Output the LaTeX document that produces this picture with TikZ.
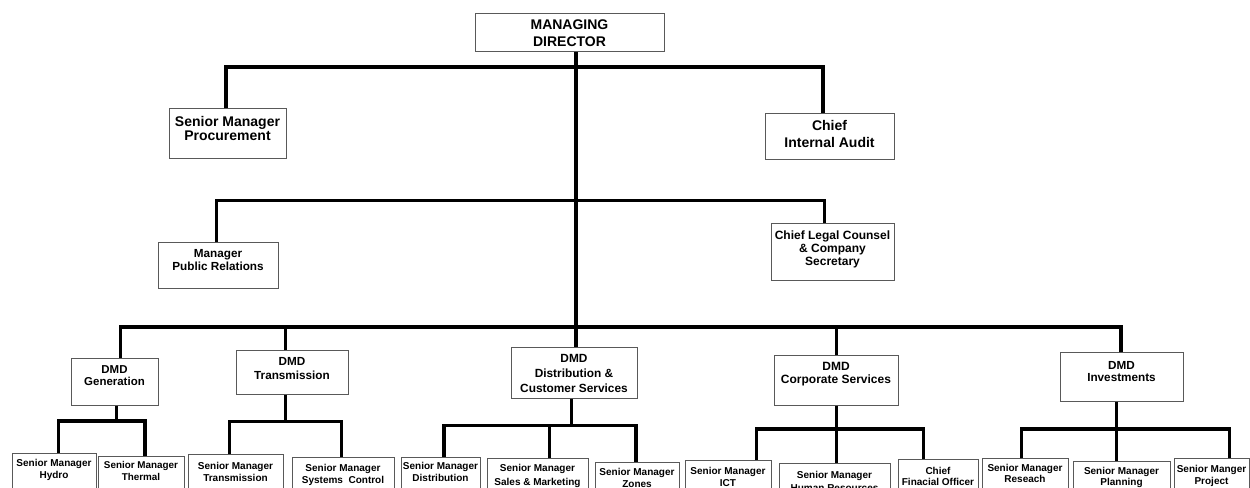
\documentclass[tikz,border=0pt]{standalone}
\usepackage{fontspec}
\setmainfont{Liberation Sans}
\usetikzlibrary{calc}

\tikzset{
  box/.style={draw=black!65, line width=0.75pt, fill=white, align=center,
              inner xsep=0pt, inner ysep=0pt},
  fnt/.style 2 args={font=\bfseries\fontsize{#1}{#2}\selectfont},
  bw/.style={minimum width=#1*0.75pt},
  bh/.style={minimum height=#1*0.75pt},
  % extra depth under the last line pushes the text upwards in its box
  lift/.style={execute at end node={\rule[-#1]{0pt}{#1}}},
  leaf/.style={box, anchor=north, fnt={7.5}{9}, lift=30pt},
  link/.style={line width=2.4pt, line join=miter},
}

\begin{document}
\begin{tikzpicture}[x=0.75pt, y=-0.75pt]
\useasboundingbox (0,0) rectangle (1250,488);
\fill[white] (0,0) rectangle (1250,488);
\clip (0,0) rectangle (1250,488);

% ---- top management ----
\node[box, fnt={10.5}{12.75}, bw=189, bh=38] (md) at (569.5,33) {MANAGING\\DIRECTOR};
\node[box, fnt={10.5}{10.5}, bw=117, bh=50, lift=9pt] (proc) at (227.5,134) {Senior Manager\\Procurement};
\node[box, fnt={10.5}{12.75}, bw=129, bh=46, lift=4.2pt] (audit) at (829.5,137) {Chief\\Internal Audit};
\node[box, fnt={8.8}{10}, bw=120, bh=46, lift=9pt] (pr) at (218,266) {Manager\\Public Relations};
\node[box, fnt={9}{9.75}, bw=123, bh=57, lift=7.2pt] (legal) at (832.5,252.5) {Chief Legal Counsel\\\& Company\\Secretary};

% ---- deputy managing directors ----
\node[box, fnt={8.6}{9}, bw=87, bh=46, lift=9.75pt] (gen) at (114.5,382) {DMD\\Generation};
\node[box, fnt={8.8}{10.5}, bw=112, bh=43, lift=5.5pt] (trans) at (292,372.5) {DMD\\Transmission};
\node[box, fnt={8.9}{11.25}, bw=126, bh=50] (dist) at (574,373) {DMD\\Distribution \&\\Customer Services};
\node[box, fnt={9}{10}, bw=124, bh=49, lift=11.25pt] (corp) at (836,380.5) {DMD\\Corporate Services};
\node[box, fnt={8.8}{9}, bw=123, bh=48, lift=8pt] (inv) at (1121.5,377) {DMD\\Investments};

% ---- senior managers ----
\node[leaf, fnt={7.5}{8.8}, bw=84, inner ysep=4.5pt] (hydro) at (54,453) {Senior Manager\\Hydro};
\node[leaf, fnt={7.4}{9.2}, bw=86, inner ysep=3.8pt] (thermal) at (141,456) {Senior Manager\\Thermal};
\node[leaf, bw=95, inner ysep=5.6pt] (smtrans) at (235.5,454) {Senior Manager\\Transmission};
\node[leaf, bw=102, inner ysep=4.9pt] (sysctl) at (343,457) {Senior Manager\\Systems\ \ Control};
\node[leaf, bw=79, inner ysep=4.1pt] (distrib) at (440.5,456.5) {Senior Manager\\Distribution};
\node[leaf, fnt={7.5}{11}, bw=101, inner ysep=3.8pt] (sales) at (537.5,458.3) {Senior Manager\\Sales \& Marketing};
\node[leaf, bw=84, inner ysep=4.2pt] (zones) at (637,462) {Senior Manager\\Zones};
\node[leaf, fnt={7.5}{8.8}, bw=86, inner ysep=4.9pt] (ict) at (728,460) {Senior Manager\\ICT};
\node[leaf, fnt={7.5}{10}, bw=111, inner ysep=5.5pt] (hr) at (834.5,463) {Senior Manager\\Human Resources};
\node[leaf, fnt={7.5}{8.25}, bw=80, inner ysep=5.5pt] (cfo) at (938,459.3) {Chief\\Finacial Officer};
\node[leaf, fnt={7.5}{8.25}, bw=86, inner ysep=4.3pt] (research) at (1025,458.3) {Senior Manager\\Reseach};
\node[leaf, fnt={7.5}{8}, bw=97, inner ysep=4.5pt] (planning) at (1121.5,460.7) {Senior Manager\\Planning};
\node[leaf, bw=75, inner ysep=4.5pt] (project) at (1211.5,458.3) {Senior Manger\\Project};

% ---- junction points of the connector bars ----
\coordinate (j1) at (576,67);
\coordinate (j2) at (576,200.5);
\coordinate (jm) at (576,327);
\coordinate (jg) at (116.7,421);
\coordinate (jt) at (285.7,421.7);
\coordinate (jd) at (571.7,425.7);
\coordinate (jc) at (836.7,429);
\coordinate (ji) at (1116.7,429);

% ---- main trunk ----
\draw[link] (md.south -| jm) -- (jm |- dist.north);

% ---- staff positions ----
\draw[link] ($(proc.north)+(-1.5,0)$) |- (j1);
\draw[link] ($(audit.north)+(-6.5,0)$) |- (j1);
\draw[link] ($(pr.north)+(-1.3,0)$) |- (j2);
\draw[link] ($(legal.north)+(-8.2,0)$) |- (j2);

% ---- DMD bar ----
\draw[link] ($(gen.north)+(6.2,0)$) |- (jm);
\draw[link] ($(trans.north)+(-6.3,0)$) |- (jm);
\draw[link] ($(corp.north)+(0.7,0)$) |- (jm);
\draw[link] ($(inv.north)+(-0.5,0)$) |- (jm);

% ---- Generation ----
\draw[link] (gen.south -| jg) -- (jg);
\draw[link] ($(hydro.north)+(4.3,0)$) |- (jg);
\draw[link] ($(thermal.north)+(4,0)$) |- (jg);

% ---- Transmission ----
\draw[link] (trans.south -| jt) -- (jt);
\draw[link] ($(smtrans.north)+(-6.2,0)$) |- (jt);
\draw[link] ($(sysctl.north)+(-1.3,0)$) |- (jt);

% ---- Distribution & Customer Services ----
\draw[link] (dist.south -| jd) -- (jd);
\draw[link] ($(distrib.north)+(3.5,0)$) |- (jd);
\draw[link] ($(sales.north)+(11.8,0)$) |- (jd);
\draw[link] ($(zones.north)+(-1,0)$) |- (jd);

% ---- Corporate Services ----
\draw[link] (corp.south -| jc) -- (jc);
\draw[link] ($(ict.north)+(28.7,0)$) |- (jc);
\draw[link] ($(hr.north)+(2.2,0)$) |- (jc);
\draw[link] ($(cfo.north)+(-14.7,0)$) |- (jc);

% ---- Investments ----
\draw[link] (inv.south -| ji) -- (ji);
\draw[link] ($(research.north)+(-3.3,0)$) |- (ji);
\draw[link] ($(planning.north)+(-4.8,0)$) |- (ji);
\draw[link] ($(project.north)+(17.8,0)$) |- (ji);
\end{tikzpicture}
\end{document}
